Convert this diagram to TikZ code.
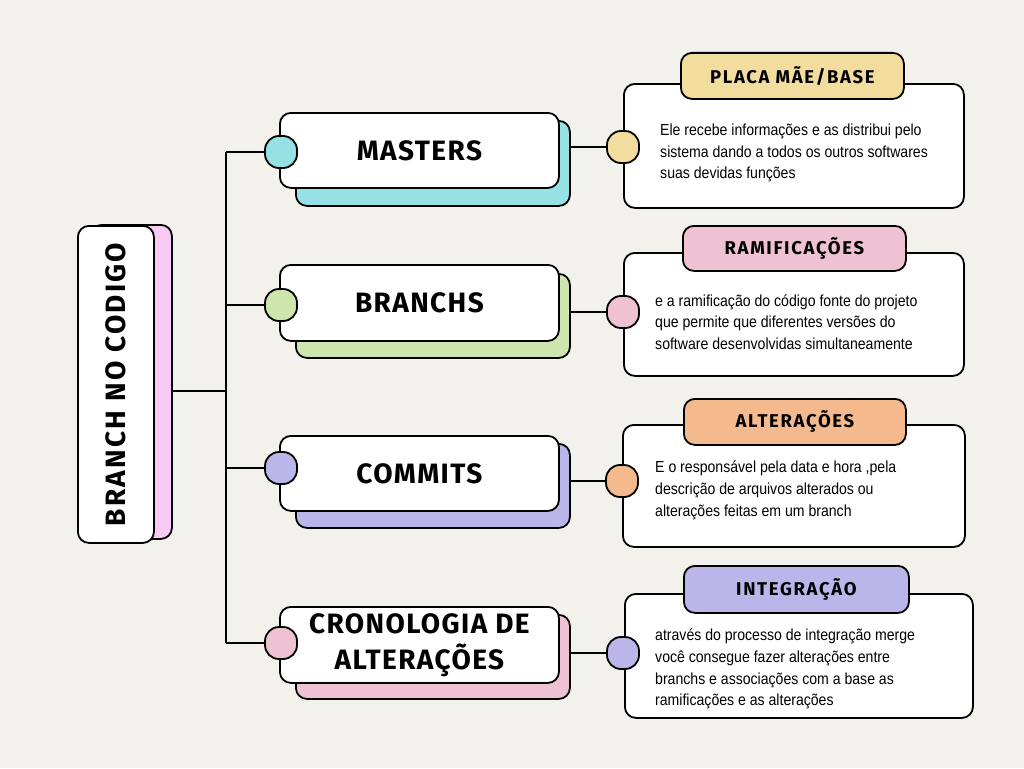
\documentclass[tikz,border=0pt]{standalone}
\usepackage{fontspec}
\setmainfont{Liberation Sans}
\newfontfamily\bodyfont[FakeStretch=0.88]{Liberation Sans}
\newfontfamily\headfont[LetterSpace=5]{Fira Sans}
\newfontfamily\rootfont[LetterSpace=8]{Fira Sans}
\newfontfamily\tagfont[LetterSpace=9]{Fira Sans}
\definecolor{bgc}{HTML}{F3F1EC}
\definecolor{ccyan}{HTML}{95E1E3}
\definecolor{cgreen}{HTML}{CFE5AE}
\definecolor{cpurple}{HTML}{BBB6EA}
\definecolor{cpink}{HTML}{EFC2D3}
\definecolor{cmag}{HTML}{F8C9F3}
\definecolor{cyellow}{HTML}{F3DD9E}
\definecolor{corange}{HTML}{F4BA8E}
\tikzset{
  card/.style={draw=black, line width=1.8pt, rounded corners=11pt, fill=white, inner sep=0pt, anchor=north west},
  dot/.style={draw=black, line width=1.8pt, fill=#1, rounded corners=14pt, minimum width=32pt, minimum height=32pt, inner sep=0pt},
  tagbox/.style={draw=black, line width=1.8pt, rounded corners=11pt, fill=#1, inner sep=0pt, anchor=north west},
  link/.style={line width=1.6pt},
  headtxt/.style={font=\headfont\bfseries\fontsize{28}{36}\selectfont, align=center, inner sep=0pt},
  tagtxt/.style={font=\tagfont\bfseries\fontsize{18.5}{20}\selectfont, inner sep=0pt},
  bodytxt/.style={font=\bodyfont\fontsize{16}{21.8}\selectfont, align=left, anchor=west, inner sep=0pt},
}
\begin{document}
\begin{tikzpicture}[x=1pt,y=-1pt]
\fill[bgc] (0,0) rectangle (1024,768);
\useasboundingbox (0,0) rectangle (1024,768);

% left root box
\node[card, fill=cmag, minimum width=81pt, minimum height=314pt] (lsh) at (90,224) {};
\node[card, minimum width=76pt, minimum height=317pt] (lbox) at (77,225) {};
\node[inner sep=0pt, rotate=90, font=\rootfont\bfseries\fontsize{28}{30}\selectfont] (ltxt) at (lbox.center) {BRANCH NO CODIGO};

% trunk
\coordinate (j0) at (226,391);
\coordinate (jt) at (226,152);
\coordinate (jb) at (226,643);
\draw[link] (j0 -| lsh.east) -- (j0);
\draw[link] (jt) -- (jb);

% ---------- branch 1
\node[card, fill=ccyan, minimum width=274pt, minimum height=85pt] (s1) at (295,120) {};
\node[card, minimum width=279pt, minimum height=75pt] (w1) at (279,112) {};
\node[headtxt] (h1) at (w1.center) {MASTERS};
\node[dot=ccyan] (l1) at (281,152) {};
\draw[link] (jt) -- (l1.west);
\node[card, minimum width=340pt, minimum height=124pt] (d1) at (623,83) {};
\node[dot=cyellow] (r1) at (623,147) {};
\draw[link] (r1.west -| s1.east) -- (r1.west);
\node[tagbox=cyellow, minimum width=223pt, minimum height=46pt] (t1) at (680,52) {};
\node[tagtxt] (tt1) at (t1.center) {PLACA MÃE/BASE};
\node[bodytxt] (b1) at (660,153) {Ele recebe informações e as distribui pelo\\sistema dando a todos os outros softwares\\suas devidas funções};

% ---------- branch 2
\node[card, fill=cgreen, minimum width=274pt, minimum height=84pt] (s2) at (295,273) {};
\node[card, minimum width=279pt, minimum height=76pt] (w2) at (279,264) {};
\node[headtxt] (h2) at (w2.center) {BRANCHS};
\node[dot=cgreen] (l2) at (281,305) {};
\draw[link] (l2.west -| jt) -- (l2.west);
\node[card, minimum width=340pt, minimum height=123pt] (d2) at (623,252) {};
\node[dot=cpink] (r2) at (623,312) {};
\draw[link] (r2.west -| s2.east) -- (r2.west);
\node[tagbox=cpink, minimum width=223pt, minimum height=45pt] (t2) at (682,225) {};
\node[tagtxt] (tt2) at (t2.center) {RAMIFICAÇÕES};
\node[bodytxt] (b2) at (655,322) {e a ramificação do código fonte do projeto\\que permite que diferentes versões do\\software desenvolvidas simultaneamente};

% ---------- branch 3
\node[card, fill=cpurple, minimum width=274pt, minimum height=84pt] (s3) at (295,443) {};
\node[card, minimum width=279pt, minimum height=75pt] (w3) at (279,435) {};
\node[headtxt] (h3) at (w3.center) {COMMITS};
\node[dot=cpurple] (l3) at (281,468) {};
\draw[link] (l3.west -| jt) -- (l3.west);
\node[card, minimum width=342pt, minimum height=122pt] (d3) at (622,424) {};
\node[dot=corange] (r3) at (622,481) {};
\draw[link] (r3.west -| s3.east) -- (r3.west);
\node[tagbox=corange, minimum width=222pt, minimum height=46pt] (t3) at (683,398) {};
\node[tagtxt] (tt3) at (t3.center) {ALTERAÇÕES};
\node[bodytxt] (b3) at (655,490) {E o responsável pela data e hora ,pela\\descrição de arquivos alterados ou\\alterações feitas em um branch};

% ---------- branch 4
\node[card, fill=cpink, minimum width=274pt, minimum height=84pt] (s4) at (295,614) {};
\node[card, minimum width=279pt, minimum height=76pt] (w4) at (279,606) {};
\node[headtxt] (h4) at (w4.center) {CRONOLOGIA DE\\ALTERAÇÕES};
\node[dot=cpink] (l4) at (281,643) {};
\draw[link] (l4.west -| jt) -- (l4.west);
\node[card, minimum width=348pt, minimum height=124pt] (d4) at (624,593) {};
\node[dot=cpurple] (r4) at (623,653) {};
\draw[link] (r4.west -| s4.east) -- (r4.west);
\node[tagbox=cpurple, minimum width=225pt, minimum height=47pt] (t4) at (683,565) {};
\node[tagtxt] (tt4) at (t4.center) {INTEGRAÇÃO};
\node[bodytxt] (b4) at (655,669) {através do processo de integração merge\\você consegue fazer alterações entre\\branchs e associações com a base as\\ramificações e as alterações};
\end{tikzpicture}
\end{document}
